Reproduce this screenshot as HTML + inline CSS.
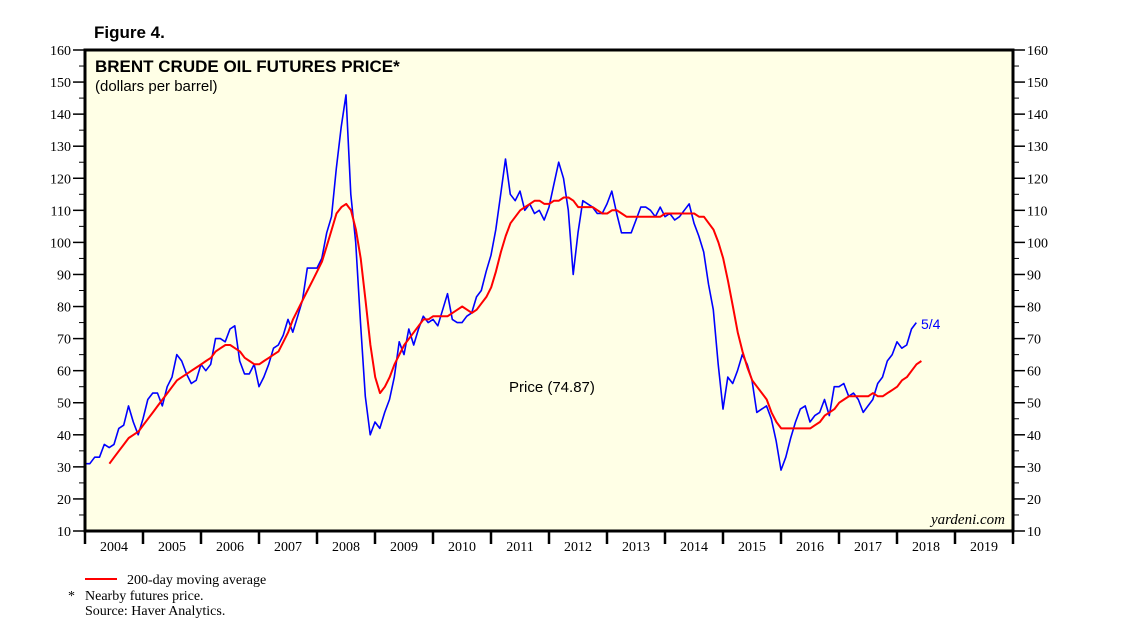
<!DOCTYPE html>
<html><head><meta charset="utf-8">
<style>
html,body{margin:0;padding:0;background:#fff;width:1138px;height:634px;overflow:hidden}
svg{display:block}
</style></head>
<body>
<svg id="chart" width="1138" height="634" xmlns="http://www.w3.org/2000/svg">
<text x="94" y="38" font-family="Liberation Sans, sans-serif" font-weight="bold" font-size="17">Figure 4.</text>
<rect x="85" y="50" width="928" height="481" fill="#ffffe6"/>
<g id="grid"></g>
<g id="series"></g>
<rect x="85" y="50" width="928" height="481" fill="none" stroke="#000" stroke-width="3"/>
<text x="95" y="72" font-family="Liberation Sans, sans-serif" font-weight="bold" font-size="17">BRENT CRUDE OIL FUTURES PRICE*</text>
<text x="95" y="91" font-family="Liberation Sans, sans-serif" font-size="15">(dollars per barrel)</text>
<text x="509" y="392" font-family="Liberation Sans, sans-serif" font-size="15">Price (74.87)</text>
<text x="921" y="329" font-family="Liberation Sans, sans-serif" font-size="14" fill="#0000ff">5/4</text>
<text x="1005" y="524" text-anchor="end" font-family="Liberation Serif, serif" font-style="italic" font-size="15">yardeni.com</text>
<line x1="85" y1="579" x2="117" y2="579" stroke="#ff0000" stroke-width="2"/>
<text x="127" y="584" font-family="Liberation Serif, serif" font-size="14">200-day moving average</text>
<text x="68" y="600" font-family="Liberation Serif, serif" font-size="14">*</text>
<text x="85" y="600" font-family="Liberation Serif, serif" font-size="14">Nearby futures price.</text>
<text x="85" y="615" font-family="Liberation Serif, serif" font-size="14">Source: Haver Analytics.</text>
</svg>
<script>
const yTicks=[10,20,30,40,50,60,70,80,90,100,110,120,130,140,150,160];
const years=[2004,2005,2006,2007,2008,2009,2010,2011,2012,2013,2014,2015,2016,2017,2018,2019];
const priceStart=2004;
const price=[31,31,33,33,37,36,37,42,43,49,44,40,
45,51,53,53,49,55,58,65,63,59,56,57,
62,60,62,70,70,69,73,74,63,59,59,62,
55,58,62,67,68,71,76,72,77,82,92,92,
92,95,103,108,123,136,146,115,100,75,52,40,
44,42,47,51,58,69,65,73,68,73,77,75,
76,74,79,84,76,75,75,77,78,83,85,91,
96,104,115,126,115,113,116,110,112,109,110,107,
111,118,125,120,110,90,103,113,112,111,109,109,
112,116,109,103,103,103,107,111,111,110,108,111,
108,109,107,108,110,112,106,102,97,87,79,62,
48,58,56,60,65,62,57,47,48,49,45,38,
29,33,39,44,48,49,44,46,47,51,46,55,
55,56,52,53,51,47,49,51,56,58,63,65,
69,67,68,73,75];
const maStart=2004.42;
const ma=[31,33,35,37,39,40,41,
43,45,47,49,51,53,55,57,58,59,60,61,
62,63,64,66,67,68,68,67,66,64,63,62,
62,63,64,65,66,69,72,76,79,82,85,88,
91,94,99,104,109,111,112,110,104,95,82,68,
58,53,55,58,62,65,68,70,72,74,76,76,
77,77,77,77,78,79,80,79,78,79,81,83,
86,91,97,102,106,108,110,111,112,113,113,112,
112,113,113,114,114,113,111,111,111,111,110,109,
109,110,110,109,108,108,108,108,108,108,108,108,
109,109,109,109,109,109,109,108,108,106,104,100,
95,88,80,72,66,61,57,55,53,51,47,44,
42,42,42,42,42,42,42,43,44,46,47,48,
50,51,52,52,52,52,52,53,52,52,53,54,
55,57,58,60,62,63];
const X0=85,X1=1013,Y0=531,Y1=50;
const xs=t=>X0+(t-2004)/16*(X1-X0);
const ys=v=>Y0-(v-10)/150*(Y0-Y1);
const NS="http://www.w3.org/2000/svg";
const svg=document.getElementById('chart');
function mk(tag,attrs,parent){const e=document.createElementNS(NS,tag);for(const k in attrs)e.setAttribute(k,attrs[k]);(parent||svg).appendChild(e);return e;}
yTicks.forEach((v,i)=>{
  const y=ys(v);
  const l=mk('line',{x1:X0-12,x2:X0,y1:y,y2:y,stroke:'#000','stroke-width':1.5});
  
  
  const r=mk('line',{x1:X1,x2:X1+12,y1:y,y2:y,stroke:'#000','stroke-width':1.5});
  
  
  if(i<yTicks.length-1){const ym=ys(v+5);
    mk('line',{x1:X0-6,x2:X0,y1:ym,y2:ym,stroke:'#000','stroke-width':1});
    mk('line',{x1:X1,x2:X1+6,y1:ym,y2:ym,stroke:'#000','stroke-width':1});}
  const tl=mk('text',{x:X0-14,y:y+5,'text-anchor':'end','font-family':'Liberation Serif, serif','font-size':14});
  tl.textContent=v;
  
  
  const tr=mk('text',{x:X1+14,y:y+5,'font-family':'Liberation Serif, serif','font-size':14});
  tr.textContent=v;
  
  
});
years.concat([2020]).forEach(yr=>{
  const x=xs(yr);
  const t=mk('line',{x1:x,x2:x,y1:Y0,y2:Y0+13,stroke:'#000','stroke-width':2.5});
  
  
});
years.forEach(yr=>{
  const lb=mk('text',{x:xs(yr+0.5),y:Y0+20,'text-anchor':'middle','font-family':'Liberation Serif, serif','font-size':14});
  lb.textContent=yr;
  
  
});
const ser=document.getElementById('series');
function path(arr,start,step){return arr.map((v,i)=>(i?'L':'M')+xs(start+i*step).toFixed(1)+','+ys(v).toFixed(1)).join(' ');}
const pp=mk('path',{d:path(price,priceStart,1/12),fill:'none',stroke:'#0000ff','stroke-width':1.6,'stroke-linejoin':'round'},ser);


const mp=mk('path',{d:path(ma,maStart,1/12),fill:'none',stroke:'#ff0000','stroke-width':2,'stroke-linejoin':'round'},ser);


</script>
</body></html>
